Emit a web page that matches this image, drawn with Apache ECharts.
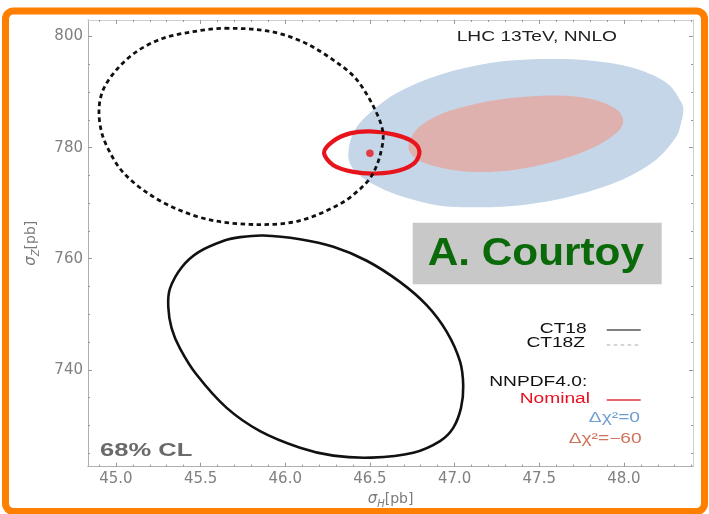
<!DOCTYPE html>
<html><head><meta charset="utf-8">
<script src="https://cdn.jsdelivr.net/npm/echarts@6/dist/echarts.min.js"></script>
<style>html,body{margin:0;padding:0;background:#fff}#c{width:709px;height:514px}</style>
</head><body><div id="c"></div>
<script>
// ---------- axes ----------
const xRange = [44.835, 48.408];
const yRange = [722.57, 802.99];
const xTickLabels = [45.0, 45.5, 46.0, 46.5, 47.0, 47.5, 48.0];
const xMinorTicks = [44.9, 45.0, 45.1, 45.2, 45.3, 45.4, 45.5, 45.6, 45.7, 45.8, 45.9, 46.0, 46.1, 46.2, 46.3, 46.4, 46.5, 46.6, 46.7, 46.8, 46.9, 47.0, 47.1, 47.2, 47.3, 47.4, 47.5, 47.6, 47.7, 47.8, 47.9, 48.0, 48.1, 48.2, 48.3, 48.4];
const yTickLabels = [740, 760, 780, 800];
const yMinorTicks = [725, 730, 735, 740, 745, 750, 755, 760, 765, 770, 775, 780, 785, 790, 795, 800];

// ---------- 68% CL contours (sigma_H, sigma_Z) ----------
const ct18 = [[45.870,764.18],[46.087,763.50],[46.284,762.15],[46.481,759.64],[46.677,755.83],[46.835,751.64],[46.953,746.87],[47.032,741.50],[47.051,737.08],[47.038,733.14],[46.992,729.55],[46.914,727.17],[46.756,725.07],[46.510,724.18],[46.284,724.54],[46.087,725.97],[45.851,728.96],[45.654,733.14],[45.477,739.10],[45.378,743.88],[45.329,747.47],[45.309,751.35],[45.319,754.63],[45.390,758.52],[45.488,761.20],[45.641,763.28],[45.734,763.89]];
const ct18z = [[45.644,801.50],[45.917,800.90],[46.128,798.69],[46.323,794.93],[46.422,792.24],[46.520,787.46],[46.577,782.75],[46.559,778.51],[46.510,774.92],[46.441,772.54],[46.323,769.86],[46.087,766.86],[45.851,766.15],[45.575,766.86],[45.359,768.96],[45.181,771.95],[45.043,775.53],[44.965,779.12],[44.916,782.70],[44.900,786.87],[44.925,790.45],[45.004,794.04],[45.122,797.31],[45.279,799.71],[45.457,800.90]];
const nnpdfChi0 = [[46.372,778.51],[46.402,782.70],[46.500,786.28],[46.658,789.86],[46.914,793.14],[47.209,795.24],[47.504,795.95],[47.800,795.70],[48.056,794.34],[48.253,791.65],[48.341,788.07],[48.351,786.51],[48.336,784.27],[48.312,782.09],[48.194,777.92],[47.996,774.33],[47.701,771.34],[47.406,769.68],[47.150,769.26],[46.914,769.55],[46.677,771.34],[46.500,773.74],[46.402,776.12]];
const nnpdfChi60 = [[46.727,780.01],[46.776,783.29],[46.914,785.98],[47.110,787.77],[47.347,788.97],[47.603,789.38],[47.819,788.66],[47.957,786.87],[47.996,784.78],[47.957,782.70],[47.819,780.01],[47.603,777.61],[47.347,776.00],[47.110,775.64],[46.914,776.43],[46.776,777.92]];
const nnpdfNominal = [[46.229,779.12],[46.284,781.19],[46.382,782.57],[46.500,782.93],[46.638,782.39],[46.747,781.19],[46.792,779.40],[46.766,777.32],[46.677,775.94],[46.540,775.35],[46.402,775.64],[46.284,776.84]];
const nominalPoint = [[46.5, 779.0]];

const labelFont = 'DejaVu Sans';
const txtFont = 'Liberation Sans';
const stretch = 1.37;

function loop(name, pts, style, z) {
  return {
    type: 'custom', name: name, xAxisIndex: 0, yAxisIndex: 0, data: pts, z: z, silent: true,
    renderItem: function (params, api) {
      if (params.dataIndex !== 0) return null;
      return { type: 'polygon', shape: { points: pts.map(function (p) { return api.coord(p); }), smooth: 0.33 }, style: style };
    }
  };
}

const nameRich = function () {
  return {
    color: '#7a7a7a', fontFamily: labelFont, rich: {
      s: { fontStyle: 'italic', fontSize: 15, color: '#7a7a7a', lineHeight: 20, fontFamily: labelFont },
      sub: { fontStyle: 'italic', fontSize: 10, color: '#7a7a7a', verticalAlign: 'bottom', lineHeight: 20, fontFamily: labelFont },
      n: { fontSize: 14, color: '#7a7a7a', lineHeight: 20, fontFamily: labelFont }
    }
  };
};

function xAx(pos, ticks, len, withLabels, lineColor) {
  const a = {
    type: 'value', position: pos, min: xRange[0], max: xRange[1],
    axisLine: { show: true, lineStyle: { color: lineColor, width: 1 } },
    axisTick: { show: true, inside: true, length: len, customValues: ticks, lineStyle: { color: '#9a9a9a', width: 1 } },
    axisLabel: { show: false },
    splitLine: { show: false }
  };
  if (withLabels) {
    a.axisLabel = { show: true, customValues: xTickLabels, formatter: function (v) { return v.toFixed(1); }, color: '#808080', fontSize: 15, fontFamily: labelFont, margin: 5 };
    a.name = '{s|σ}{sub|H}{n|[pb]}';
    a.nameLocation = 'middle';
    a.nameGap = 20;
    a.nameTextStyle = nameRich();
  }
  return a;
}
function yAx(pos, ticks, len, withLabels, lineColor) {
  const a = {
    type: 'value', position: pos, min: yRange[0], max: yRange[1],
    axisLine: { show: true, lineStyle: { color: lineColor, width: 1 } },
    axisTick: { show: true, inside: true, length: len, customValues: ticks, lineStyle: { color: '#9a9a9a', width: 1 } },
    axisLabel: { show: false },
    splitLine: { show: false }
  };
  if (withLabels) {
    a.axisLabel = { show: true, customValues: yTickLabels, color: '#808080', fontSize: 15, fontFamily: labelFont, margin: 5 };
    a.name = '{s|σ}{sub|Z}{n|[pb]}';
    a.nameLocation = 'middle';
    a.nameGap = 47;
    a.nameRotate = 90;
    a.nameTextStyle = nameRich();
  }
  return a;
}

function txt(x, y, text, opt) {
  return {
    type: 'text', x: x, y: y, scaleX: opt.scaleX || stretch, z: 50,
    style: { text: text, fill: opt.color || '#222', font: (opt.weight || 'normal') + ' ' + (opt.size || 14) + 'px "' + (opt.family || txtFont) + '"',
      textAlign: opt.align || 'left', textVerticalAlign: 'middle' }
  };
}
function seg(x1, x2, y, color, width, dash) {
  return { type: 'line', z: 50, shape: { x1: x1, y1: y, x2: x2, y2: y }, style: { stroke: color, lineWidth: width, lineDash: dash || null } };
}

const chart = echarts.init(document.getElementById('c'), null, { renderer: 'canvas' });
chart.setOption({
  animation: false,
  backgroundColor: '#ffffff',
  grid: { left: 88, right: 16, top: 20, bottom: 45, containLabel: false },
  xAxis: [
    xAx('bottom', xTickLabels, 4, true, '#b0b0b0'),
    xAx('bottom', xMinorTicks, 2, false, '#b0b0b0'),
    xAx('top', xTickLabels, 4, false, '#cfcfcf'),
    xAx('top', xMinorTicks, 2, false, '#cfcfcf')
  ],
  yAxis: [
    yAx('left', yTickLabels, 4, true, '#b0b0b0'),
    yAx('left', yMinorTicks, 2, false, '#b0b0b0'),
    yAx('right', yTickLabels, 4, false, '#cfcfcf'),
    yAx('right', yMinorTicks, 2, false, '#cfcfcf')
  ],
  series: [
    loop('Δχ²=0', nnpdfChi0, { fill: '#c4d6e8', stroke: null }, 1),
    loop('Δχ²=−60', nnpdfChi60, { fill: '#dfb1ae', stroke: null }, 2),
    loop('Nominal', nnpdfNominal, { fill: null, stroke: '#e8141c', lineWidth: 4.2 }, 3),
    loop('CT18Z', ct18z, { fill: null, stroke: '#111', lineWidth: 2.8, lineDash: [4.5, 3.5] }, 4),
    loop('CT18', ct18, { fill: null, stroke: '#111', lineWidth: 2.6 }, 4),
    { type: 'scatter', name: 'Nominal point', xAxisIndex: 0, yAxisIndex: 0, data: nominalPoint, symbol: 'circle', symbolSize: 7.5, itemStyle: { color: '#e8141c' }, z: 5, silent: true }
  ],
  graphic: [
    { type: 'rect', z: 100, silent: true, shape: { x: 5.5, y: 11, width: 699, height: 500.5, r: 8 }, style: { fill: null, stroke: '#ff7f00', lineWidth: 7 } },
    txt(456.7, 37, 'LHC 13TeV, NNLO', { color: '#222' }),
    { type: 'rect', z: 40, shape: { x: 412.7, y: 222.7, width: 249, height: 61.6 }, style: { fill: '#c8c8c8' } },
    txt(427.7, 254, 'A. Courtoy', { color: '#0a6a0a', size: 39, weight: 'bold', scaleX: 1.085 }),
    txt(100, 451.5, '68% CL', { color: '#6a6a6a', size: 18, weight: 'bold', scaleX: 1.42 }),
    txt(586.7, 329, 'CT18', { align: 'right', color: '#111' }),
    txt(585, 343.5, 'CT18Z', { align: 'right', color: '#111' }),
    txt(587.3, 382, 'NNPDF4.0:', { align: 'right', color: '#111' }),
    txt(590, 399.5, 'Nominal', { align: 'right', color: '#e8101e' }),
    txt(640, 418.5, 'Δχ²=0', { align: 'right', color: '#6f9fd2' }),
    txt(641.7, 439.5, 'Δχ²=−60', { align: 'right', color: '#d0735b' }),
    seg(606.7, 640.7, 330, '#555', 1.5),
    seg(606.7, 640.7, 345, '#aaa', 1.2, [3.5, 3.5]),
    seg(606.7, 640.7, 400, '#e03038', 1.5)
  ]
});
</script></body></html>
